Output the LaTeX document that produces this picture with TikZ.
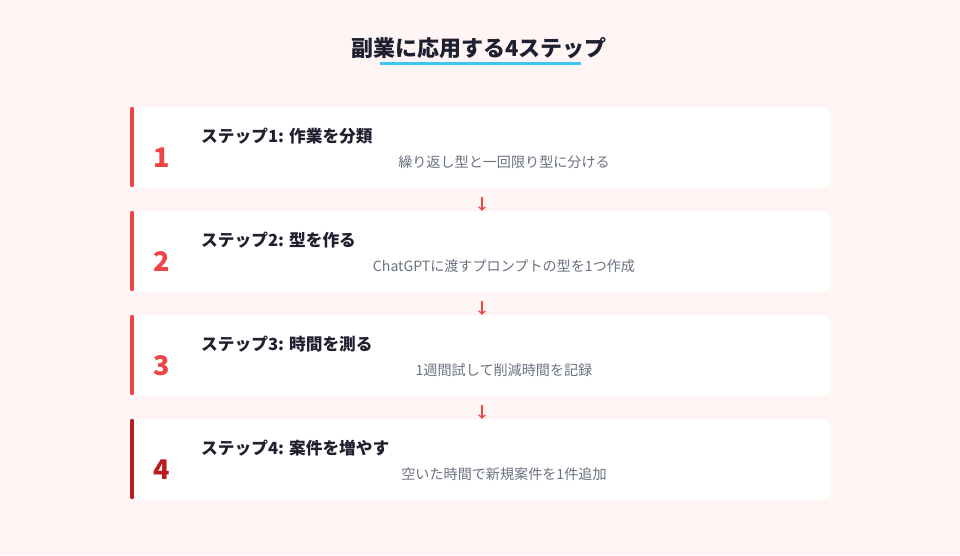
\documentclass[tikz,border=0pt]{standalone}
\usepackage{fontspec}
\setmainfont{Noto Sans CJK JP}
\usetikzlibrary{positioning,arrows.meta}
\definecolor{bgpink}{HTML}{FFF5F5}
\definecolor{inkdark}{HTML}{1E2030}
\definecolor{accentred}{HTML}{EF4444}
\definecolor{deepred}{HTML}{B91C1C}
\definecolor{mutedgray}{HTML}{6B7280}
\definecolor{skyline}{HTML}{3EC6F0}

\begin{document}
\begin{tikzpicture}
[x=1pt,y=-1pt,
 cardDecorate/.style={shape=rectangle,fill=white,rounded corners=8pt,minimum width=699pt,minimum height=80pt,inner sep=0pt},
 numDecorate/.style={font=\fontsize{27}{30}\selectfont\bfseries},
 headDecorate/.style={anchor=west,inner sep=0pt,text=inkdark,font=\fontsize{16.7}{19}\selectfont\bfseries},
 descDecorate/.style={inner sep=0pt,text=mutedgray,font=\fontsize{14.1}{16}\selectfont}]
%% background
\fill[bgpink] (0,0) rectangle (960,555);
\useasboundingbox (0,0) rectangle (960,555);
%% title
\node (title) at (479,48) [text=inkdark,font=\fontsize{22}{26}\selectfont\bfseries] {副業に応用する4ステップ};
\coordinate (ulleft) at (380,63.5);
\coordinate (ulright) at (581,63.5);
\draw[skyline,line width=3pt] (ulleft) -- (ulright);
%% cards
\foreach \n/\y/\col/\head/\desc in {
  1/147/accentred/作業を分類/繰り返し型と一回限り型に分ける,
  2/251/accentred/型を作る/ChatGPTに渡すプロンプトの型を1つ作成,
  3/355/accentred/時間を測る/1週間試して削減時間を記録,
  4/459/deepred/案件を増やす/空いた時間で新規案件を1件追加}
{
  \node (card\n) at (480.5,\y) [cardDecorate] {};
  \draw[\col,line width=4pt,line cap=round] ([xshift=1.5pt,yshift=-2pt]card\n.north west) -- ([xshift=1.5pt,yshift=2pt]card\n.south west);
  \node (num\n) at (162,\y+11) [numDecorate,text=\col] {\n};
  \node (head\n) at (201,\y-11) [headDecorate] {ステップ\n: \head};
  \node (desc\n) at (504,\y+15) [descDecorate] {\desc};
}
%% arrows
\tikzstyle{StepArrow}=[accentred,line width=1.3pt,-{Straight Barb[length=3pt,width=6.5pt]}]
\foreach \a/\b in {1/2, 2/3, 3/4}
{
  \draw[StepArrow] ([xshift=1.5pt,yshift=-10pt]card\a.south) -- ([xshift=1.5pt]card\b.north);
}
\end{tikzpicture}
\end{document}
